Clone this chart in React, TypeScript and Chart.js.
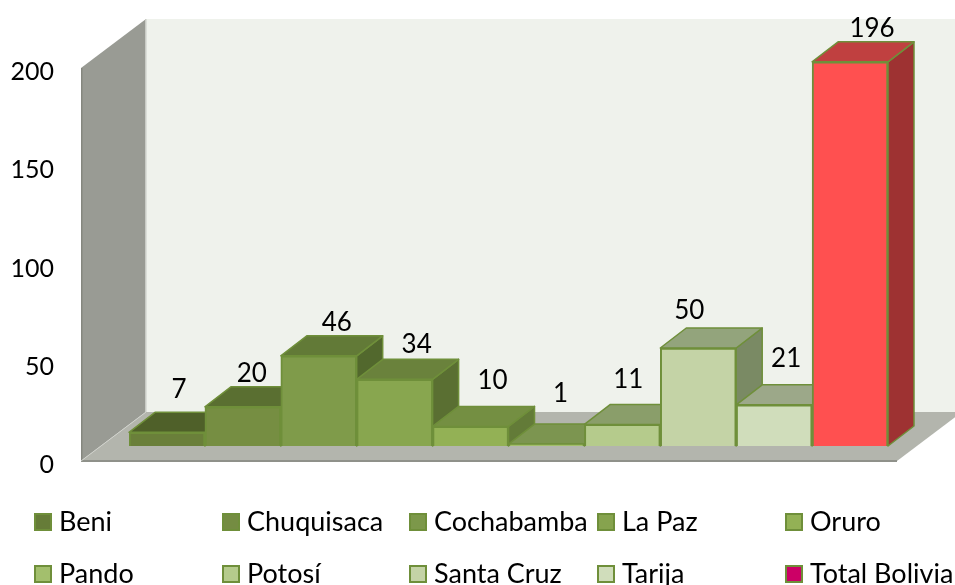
import React, { useEffect, useRef } from "react";
import { Chart, registerables } from "chart.js";

Chart.register(...registerables);

const categories = ["Beni", "Chuquisaca", "Cochabamba", "La Paz", "Oruro", "Pando", "Potosí", "Santa Cruz", "Tarija", "Total Bolivia"];
const values = [7, 20, 46, 34, 10, 1, 11, 50, 21, 196];
const axisTicks = [0, 50, 100, 150, 200];

const frontColors = ["#6A7F3A", "#768E42", "#7F9B4A", "#88A64F", "#93B155", "#A3BF6D", "#B5CB8C", "#C4D3A6", "#D0DDBB", "#FF5050"];
const topColors = ["#4F6029", "#5A6F31", "#627A37", "#6A823C", "#748F42", "#7C9550", "#8A9E6A", "#93A47C", "#9CA889", "#C04040"];
const sideColors = ["#435223", "#4E612B", "#52682D", "#5A6F32", "#637B38", "#6A8043", "#76885A", "#7A8A64", "#858F74", "#9E3232"];
const legendColors = ["#667C38", "#748C42", "#7C984A", "#86A34E", "#93B155", "#A3BF6D", "#B5CB8C", "#C4D3A6", "#D0DDBB", "#CC0066"];
const BORDER = "#6F8F3A";
const FONT = "Lato, Carlito, sans-serif";
const labelOffsets: [number, number][] = [[12, -43], [9, -33], [18, -33], [22, -35], [22, -46], [14, -50], [6, -45], [-9, -37], [12, -46], [22, -33]];

const DX = 26;
const DY = -20;

function poly(ctx: CanvasRenderingContext2D, pts: number[][], fill: string, stroke?: string, lw = 2) {
  ctx.beginPath();
  pts.forEach((p, i) => (i ? ctx.lineTo(p[0], p[1]) : ctx.moveTo(p[0], p[1])));
  ctx.closePath();
  ctx.fillStyle = fill;
  ctx.fill();
  if (stroke) {
    ctx.strokeStyle = stroke;
    ctx.lineWidth = lw;
    ctx.lineJoin = "round";
    ctx.stroke();
  }
}

const threeD = {
  id: "threeD",
  beforeDatasetsDraw(chart: any) {
    const ctx: CanvasRenderingContext2D = chart.ctx;
    const ya = chart.scales.y;
    const y0 = ya.getPixelForValue(0);
    const y200 = ya.getPixelForValue(200);
    const x0 = 81;
    const wx = 65;
    const wy = -49;
    ctx.save();
    // back wall
    poly(ctx, [[x0 + wx, y200 + wy], [955, y200 + wy], [955, y0 + wy], [x0 + wx, y0 + wy]], "#EFF2EC");
    // left wall
    poly(ctx, [[x0, y200], [x0 + wx, y200 + wy], [x0 + wx, y0 + wy], [x0, y0]], "#999B94");
    ctx.fillStyle = "#C9CBC5";
    ctx.fillRect(x0 + wx - 1, y200 + wy, 1.5, y0 - y200);
    ctx.fillStyle = "#85877F";
    ctx.fillRect(x0, y200, 1.5, y0 - y200);
    // floor
    poly(ctx, [[x0, y0], [897, y0], [897 + wx, y0 + wy], [x0 + wx, y0 + wy]], "#B3B5AD");
    ctx.strokeStyle = "#8F918A";
    ctx.lineWidth = 2;
    ctx.beginPath();
    ctx.moveTo(x0, y0);
    ctx.lineTo(897, y0);
    ctx.stroke();
    ctx.strokeStyle = "#D0D2CC";
    ctx.lineWidth = 1;
    ctx.beginPath();
    ctx.moveTo(x0, y0);
    ctx.lineTo(x0 + wx, y0 + wy);
    ctx.stroke();
    // bar depth faces, painted left to right
    const meta = chart.getDatasetMeta(0);
    meta.data.forEach((bar: any, i: number) => {
      const l = bar.x - bar.width / 2;
      const r = bar.x + bar.width / 2;
      const t = bar.y;
      const b = bar.base;
      poly(ctx, [[r, t], [r + DX, t + DY], [r + DX, b + DY], [r, b]], sideColors[i], BORDER, 1.5);
      poly(ctx, [[l, t], [l + DX, t + DY], [r + DX, t + DY], [r, t]], topColors[i], BORDER, 1.5);
    });
    ctx.restore();
  },
  afterDatasetsDraw(chart: any) {
    const ctx: CanvasRenderingContext2D = chart.ctx;
    const meta = chart.getDatasetMeta(0);
    ctx.save();
    ctx.font = `26px ${FONT}`;
    ctx.fillStyle = "#000";
    ctx.textAlign = "center";
    ctx.textBaseline = "middle";
    meta.data.forEach((bar: any, i: number) => {
      ctx.fillText(String(values[i]), bar.x + labelOffsets[i][0], bar.y + labelOffsets[i][1]);
    });
    ctx.restore();
  },
};

export default function App() {
  const ref = useRef<HTMLCanvasElement>(null);
  useEffect(() => {
    document.body.style.margin = "0";
    const chart = new Chart(ref.current!, {
      type: "bar",
      data: {
        labels: categories,
        datasets: [
          {
            label: "Total",
            data: values,
            yAxisID: "yBar",
            backgroundColor: frontColors,
            borderColor: BORDER,
            borderWidth: 2,
            categoryPercentage: 1,
            barPercentage: 1,
          },
        ],
      },
      options: {
        responsive: false,
        animation: false,
        layout: { autoPadding: false, padding: { left: 0, right: 67, top: 0, bottom: 124 } },
        plugins: { legend: { display: false }, tooltip: { enabled: false } },
        scales: {
          x: { display: false },
          y: {
            position: "left",
            min: 0,
            max: 234.6,
            grid: { display: false, drawTicks: false },
            border: { display: false },
            afterBuildTicks: (s: any) => {
              s.ticks = axisTicks.map((v) => ({ value: v }));
            },
            afterFit: (s: any) => {
              s.width = 129;
              s.paddingTop = 0;
              s.paddingBottom = 0;
            },
            ticks: { padding: 75, labelOffset: 4, color: "#000", font: { family: FONT, size: 25 } },
          },
          yBar: { display: false, min: -7.65, max: 227.55 },
        },
      },
      plugins: [threeD],
    } as any);
    return () => chart.destroy();
  }, []);

  const colX = [34, 222, 409, 597, 785];
  const rowY = [522, 574];
  return (
    <div style={{ position: "relative", width: 955, height: 585, overflow: "hidden", background: "#fff" }}>
      <canvas ref={ref} width={955} height={585} style={{ display: "block" }} />
      {categories.map((c, i) => (
        <div
          key={c}
          style={{
            position: "absolute",
            left: colX[i % 5],
            top: rowY[Math.floor(i / 5)] - 20,
            height: 40,
            display: "flex",
            alignItems: "center",
            whiteSpace: "nowrap",
            font: `27px ${FONT}`,
            color: "#000",
          }}
        >
          <span
            style={{
              width: 18,
              height: 18,
              boxSizing: "border-box",
              border: `2px solid ${BORDER}`,
              background: legendColors[i],
              marginRight: 7,
              flex: "none",
            }}
          />
          <span style={{ position: "relative", top: -2 }}>{c}</span>
        </div>
      ))}
    </div>
  );
}
